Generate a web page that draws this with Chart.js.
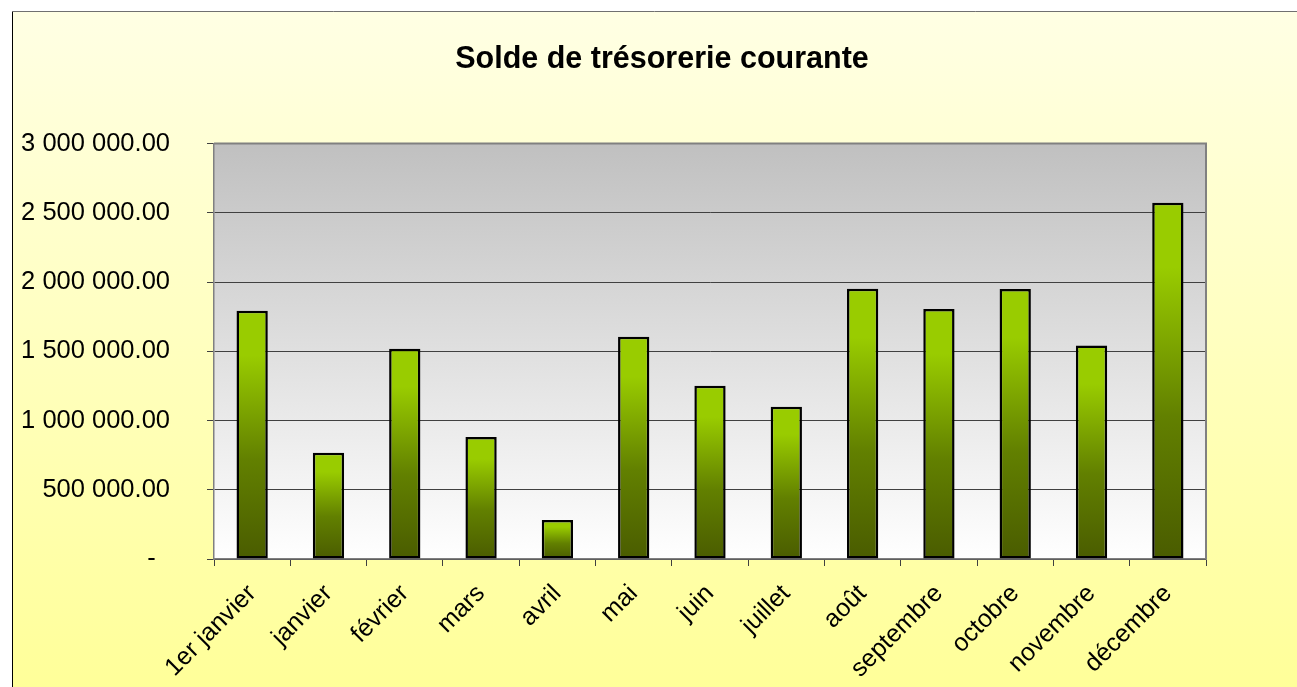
<!DOCTYPE html>
<html>
<head>
<meta charset="utf-8">
<script src="https://cdn.jsdelivr.net/npm/chart.js@4/dist/chart.umd.min.js"></script>
<style>
  body { margin: 0; background: #fff; }
  #wrap { width: 1297px; height: 687px; }
</style>
</head>
<body>
<div id="wrap"><canvas id="chart" width="1297" height="687"></canvas></div>
<script>
const titleText = "Solde de trésorerie courante";
const months = ["1er janvier", "janvier", "février", "mars", "avril", "mai", "juin",
  "juillet", "août", "septembre", "octobre", "novembre", "décembre"];
const solde = [1793000, 768000, 1518000, 880000, 282000, 1605000, 1251000,
  1099000, 1952000, 1805000, 1950000, 1542000, 2573000];
const yMax = 3000000;
const yStep = 500000;

const fontFamily = "'Liberation Sans', Arial, sans-serif";

const fmt = (v) => {
  if (v === 0) return "-  ";
  return v.toFixed(2).replace(/\B(?=(\d{3})+(?!\d))/g, " ");
};

// backgrounds: yellow chart area and grey plot area, plus borders and title
const backdrop = {
  id: "backdrop",
  beforeDraw(chart) {
    const { ctx, width, height, chartArea: a } = chart;
    ctx.save();
    const g = ctx.createLinearGradient(0, 11, 0, height);
    g.addColorStop(0, "#FFFFE4");
    g.addColorStop(1, "#FFFF99");
    ctx.fillStyle = g;
    ctx.fillRect(12, 11, width - 12, height - 11);
    ctx.lineWidth = 1;
    ctx.strokeStyle = "#000";
    ctx.beginPath();
    ctx.moveTo(12.5, 11);
    ctx.lineTo(12.5, height);
    ctx.stroke();
    ctx.strokeStyle = "#707070";
    ctx.beginPath();
    ctx.moveTo(12, 11.5);
    ctx.lineTo(width, 11.5);
    ctx.stroke();

    const p = ctx.createLinearGradient(0, a.top, 0, a.bottom);
    p.addColorStop(0, "#C0C0C0");
    p.addColorStop(1, "#FFFFFF");
    ctx.fillStyle = p;
    ctx.fillRect(a.left, a.top, a.right - a.left, a.bottom - a.top);

    // title, centred over the whole chart object (which runs past the window)
    ctx.fillStyle = "#000";
    ctx.font = "bold 30.5px " + fontFamily;
    ctx.textAlign = "center";
    ctx.textBaseline = "alphabetic";
    ctx.fillText(titleText, 662, 68);
    ctx.restore();
  },
  beforeDatasetsDraw(chart) {
    const { ctx, chartArea: a } = chart;
    ctx.save();
    ctx.strokeStyle = "#808080";
    ctx.lineWidth = 2;
    ctx.beginPath();
    ctx.moveTo(a.left, a.top);
    ctx.lineTo(a.right, a.top);
    ctx.lineTo(a.right, a.bottom);
    ctx.stroke();
    ctx.restore();
  },
};

const barFill = (c) => {
  const chart = c.chart;
  const y = chart.scales.y;
  if (!y || c.raw == null || !chart.chartArea) return "#99CC00";
  const top = y.getPixelForValue(c.raw);
  const base = y.getPixelForValue(0);
  const g = chart.ctx.createLinearGradient(0, top, 0, base);
  g.addColorStop(0, "#99CC00");
  g.addColorStop(0.18, "#99CC00");
  g.addColorStop(0.6, "#628000");
  g.addColorStop(1, "#4A5C00");
  return g;
};

new Chart(document.getElementById("chart"), {
  type: "bar",
  data: {
    labels: months,
    datasets: [{
      data: solde,
      backgroundColor: barFill,
      borderColor: "#000",
      borderWidth: 2.5,
      borderSkipped: false,
      barPercentage: 0.41,
      categoryPercentage: 1,
    }],
  },
  options: {
    responsive: false,
    animation: false,
    layout: { padding: { left: 12, right: 91, top: 143.5, bottom: 0 } },
    plugins: {
      legend: { display: false },
      tooltip: { enabled: false },
      title: { display: false },
    },
    scales: {
      x: {
        offset: true,
        grid: { offset: true, drawOnChartArea: false, drawTicks: true, tickLength: 7, color: "#404040" },
        border: { color: "#808080", width: 1.5 },
        ticks: {
          color: "#000",
          minRotation: 45,
          maxRotation: 45,
          padding: 13,
          font: { family: fontFamily, size: 25 },
        },
        afterFit(s) { s.height = 128; },
      },
      y: {
        min: 0,
        max: yMax,
        grid: { color: "#404040", tickLength: 7 },
        border: { color: "#808080", width: 1.5 },
        ticks: {
          stepSize: yStep,
          color: "#000",
          padding: 37,
          font: { family: fontFamily, size: 25.5 },
          callback: (v) => fmt(v),
        },
        afterFit(s) { s.width = 202; },
      },
    },
  },
  plugins: [backdrop],
});
</script>
</body>
</html>
